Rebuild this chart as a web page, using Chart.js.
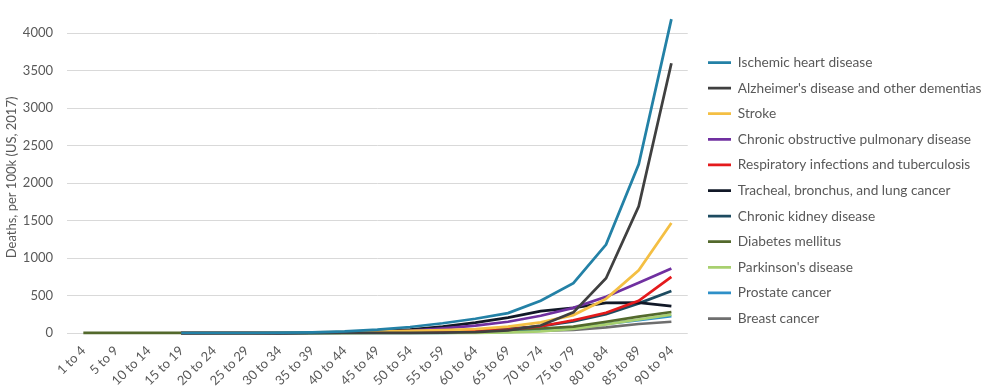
<!DOCTYPE html>
<html>
<head>
<meta charset="utf-8">
<script src="https://cdn.jsdelivr.net/npm/chart.js@4/dist/chart.umd.min.js"></script>
<style>
html,body{margin:0;padding:0;background:#fff;}
#wrap{width:983px;height:389px;position:relative;}
</style>
</head>
<body>
<div id="wrap"><canvas id="c" width="983" height="389"></canvas></div>
<script>
const categories = ['1 to 4','5 to 9','10 to 14','15 to 19','20 to 24','25 to 29','30 to 34','35 to 39','40 to 44','45 to 49','50 to 54','55 to 59','60 to 64','65 to 69','70 to 74','75 to 79','80 to 84','85 to 89','90 to 94'];

const ischemicHeart   = [null,null,null,0.3,1,2,5,10,22,45,80,130,190,265,430,665,1180,2250,4186];
const alzheimers      = [null,null,null,0,0,0,0,0.2,0.5,1,2,5,12,35,100,275,730,1688,3597];
const stroke          = [null,null,null,1,2,3,5,8,12,18,28,38,52,84,142,239,455,837,1466];
const copd            = [null,null,null,0.3,0.5,1,2,4,8,15,30,62,97,150,230,335,483,669,860];
const respiratory     = [null,null,null,1,2,3,4,5,7,9,13,18,28,45,90,170,270,430,748];
const lungCancer      = [null,null,null,0,0.2,0.5,1,2,6,20,44,84,137,204,292,335,403,405,359];
const kidney          = [null,null,null,0.5,1,1.5,2.5,4,6,10,16,25,38,58,90,155,250,395,560];
const diabetes        = [0.3,0.3,0.3,0.5,1,2,3,5,8,12,18,26,35,45,60,84,150,217,280];
const parkinsons      = [null,null,null,0,0,0,0,0,0,0.1,0.3,1,3,8,22,55,115,180,245];
const prostate        = [null,null,null,0,0,0,0,0,0.1,0.3,1,3,8,16,32,62,120,173,226];
const breast          = [null,null,null,0,0.5,1,2.5,4,6,9,12,16,20,25,31,42,76,120,150];

const seriesNames = ["Ischemic heart disease","Alzheimer's disease and other dementias","Stroke","Chronic obstructive pulmonary disease","Respiratory infections and tuberculosis","Tracheal, bronchus, and lung cancer","Chronic kidney disease","Diabetes mellitus","Parkinson's disease","Prostate cancer","Breast cancer"];
const seriesData = [ischemicHeart, alzheimers, stroke, copd, respiratory, lungCancer, kidney, diabetes, parkinsons, prostate, breast];
const seriesColors = ['#2381A6','#404040','#F4BF43','#7030A0','#E41A1C','#111827','#1D4B60','#53692C','#A8D06F','#2E90C8','#6E6E6E'];
const yTicks = [0,500,1000,1500,2000,2500,3000,3500,4000];

const FONT = 'Lato';
const TXT = '#595959';
const LEG_PAD = 11.9;

const legendShift = {
  id: 'legendShift',
  afterLayout(chart) {
    const lg = chart.legend;
    if (!lg) return;
    const dx = 708 - (lg.left + LEG_PAD);
    lg.left += dx; lg.right += dx;
    lg.top -= 4; lg.bottom -= 4;
  }
};

new Chart(document.getElementById('c'), {
  type: 'line',
  data: {
    labels: categories,
    datasets: seriesNames.map((n, i) => ({
      label: n,
      data: seriesData[i],
      borderColor: seriesColors[i],
      backgroundColor: seriesColors[i],
      borderWidth: 2.75,
      pointRadius: 0,
      tension: 0,
      fill: false,
      clip: false
    }))
  },
  options: {
    responsive: false,
    animation: false,
    layout: { padding: { top: 0, right: 0, bottom: 0, left: 0 } },
    plugins: {
      legend: {
        position: 'right',
        align: 'center',
        maxWidth: 400,
        labels: {
          usePointStyle: true,
          pointStyle: 'line',
          pointStyleWidth: 23,
          color: TXT,
          font: { family: FONT, size: 13.7 },
          padding: LEG_PAD
        }
      },
      tooltip: { enabled: false }
    },
    scales: {
      x: {
        offset: true,
        grid: { display: false },
        border: { display: false },
        afterFit: s => { s.height = 56; },
        ticks: { minRotation: 45, maxRotation: 45, autoSkip: false, color: TXT, font: { family: FONT, size: 13 }, padding: 2 }
      },
      y: {
        min: 0,
        max: 4150,
        afterBuildTicks: s => { s.ticks = yTicks.map(v => ({ value: v })); },
        afterFit: s => { s.width = 67; },
        grid: { color: '#D9D9D9', drawTicks: false, lineWidth: 1 },
        border: { display: false },
        ticks: { color: TXT, font: { family: FONT, size: 13 }, padding: 14, callback: v => String(v) },
        title: { display: true, text: 'Deaths, per 100k (US, 2017)', color: TXT, font: { family: FONT, size: 13 }, padding: { top: 4, bottom: 0 } }
      }
    }
  },
  plugins: [legendShift]
});
</script>
</body>
</html>
